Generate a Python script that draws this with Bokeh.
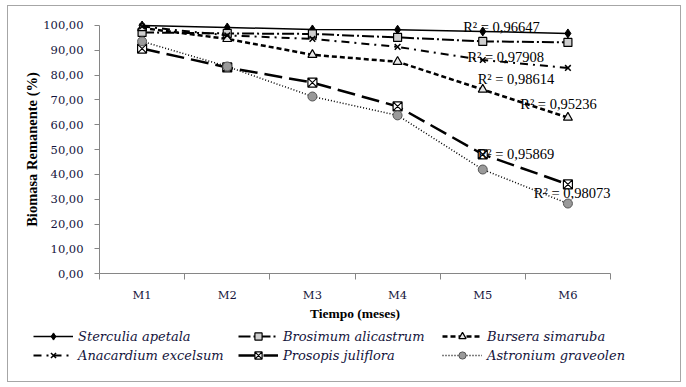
from bokeh.plotting import figure
from bokeh.models import (FixedTicker, Legend, LegendItem, Range1d)
from bokeh.core.properties import value
from bokeh.embed import file_html
from bokeh.resources import INLINE

# ---------------- data ----------------
months = ["M1", "M2", "M3", "M4", "M5", "M6"]
month_idx = [1, 2, 3, 4, 5, 6]

sterculia = [100.0, 99.2, 98.4, 98.3, 97.6, 96.8]
brosimum = [97.2, 96.8, 96.6, 95.2, 93.6, 93.2]
bursera = [99.0, 94.6, 88.2, 85.4, 74.2, 62.9]
anacardium = [99.6, 96.0, 94.6, 91.4, 86.1, 82.9]
prosopis = [90.7, 83.1, 77.0, 67.4, 48.1, 36.0]
astronium = [93.6, 83.5, 71.4, 63.8, 42.0, 28.3]

y_ticks = [0, 10, 20, 30, 40, 50, 60, 70, 80, 90, 100]
y_tick_labels = ["0,00", "10,00", "20,00", "30,00", "40,00", "50,00",
                 "60,00", "70,00", "80,00", "90,00", "100,00"]

r2_texts = ["R\u00b2 = 0,96647", "R\u00b2 = 0,97908", "R\u00b2 = 0,98614",
            "R\u00b2 = 0,95236", "R\u00b2 = 0,95869", "R\u00b2 = 0,98073"]
r2_x = [4.77, 4.82, 4.94, 5.44, 4.94, 5.60]
r2_y = [99.2, 87.3, 78.4, 68.4, 48.4, 32.4]

SERIF = "DejaVu Serif"
TITLE_FONT = "Liberation Serif"
TXT = "#14143c"
AX = "#868686"

# The frame covers the whole canvas; axes are pinned at x=0.5 and y=0 so the
# legend below the x axis can sit freely inside the frame.
p = figure(width=674, height=377, output_backend="svg", toolbar_location=None,
           x_range=Range1d(-0.5685, 7.3454), y_range=Range1d(-44.18, 107.65),
           min_border=0)
p.title.visible = False
p.styles = {"margin-left": "7px", "margin-top": "5px",
            "border": "1px solid #a6a6a6"}
p.outline_line_color = None
p.xgrid.visible = False
p.ygrid.visible = False
p.background_fill_color = "white"
p.border_fill_color = "white"

# axes
p.yaxis.fixed_location = 0.5
p.xaxis.fixed_location = 0
p.yaxis.ticker = FixedTicker(ticks=y_ticks)
p.yaxis.bounds = (0, 100)
p.yaxis.major_label_overrides = {t: l for t, l in zip(y_ticks, y_tick_labels)}
p.yaxis.axis_label = "Biomasa Remanente (%)"
p.xaxis.ticker = FixedTicker(ticks=month_idx,
                             minor_ticks=[i - 0.5 for i in month_idx] + [6.5])
p.xaxis.bounds = (0.5, 6.5)
p.xaxis.major_label_overrides = {i: m for i, m in zip(month_idx, months)}
p.xaxis.axis_label = "Tiempo (meses)"
for ax in (p.xaxis, p.yaxis):
    ax.axis_line_color = AX
    ax.major_tick_line_color = AX
    ax.minor_tick_line_color = AX
    ax.major_label_text_font = SERIF
    ax.major_label_text_font_size = "11.5px"
    ax.major_label_text_color = TXT
    ax.axis_label_text_font = TITLE_FONT
    ax.axis_label_text_font_style = "bold"
    ax.axis_label_text_color = "black"
p.yaxis.axis_label_text_font_size = "14.5px"
p.xaxis.axis_label_text_font_size = "13.5px"
p.yaxis.major_tick_out = 5
p.yaxis.major_tick_in = 0
p.yaxis.minor_tick_out = 0
p.yaxis.minor_tick_in = 0
p.yaxis.major_label_standoff = 11
p.yaxis.axis_label_standoff = 0
p.xaxis.major_tick_out = 0
p.xaxis.major_tick_in = 0
p.xaxis.minor_tick_out = 6
p.xaxis.minor_tick_in = 0
p.xaxis.major_label_standoff = 8
p.xaxis.axis_label_standoff = 1

# series
series = [
    ("Sterculia apetala", sterculia, dict(line_width=1.5, line_dash="solid"),
     dict(marker="diamond", size=9, fill_color="black", line_color="black")),
    ("Brosimum alicastrum", brosimum, dict(line_width=2, line_dash="12 3 2 3"),
     dict(marker="square", size=8, fill_color="#cfcfcf", line_color="black", line_width=1.2)),
    ("Bursera simaruba", bursera, dict(line_width=2.5, line_dash="5 3"),
     dict(marker="triangle", size=9, fill_color="#e8e8e8", line_color="black", line_width=1.2)),
    ("Anacardium excelsum", anacardium, dict(line_width=2, line_dash="8 5 2 5"),
     dict(marker="x", size=8, fill_color=None, line_color="black", line_width=1.5)),
    ("Prosopis juliflora", prosopis, dict(line_width=2.5, line_dash="18 7"),
     dict(marker="square_x", size=9, fill_color="white", line_color="black", line_width=1.2)),
    ("Astronium graveolen", astronium, dict(line_width=1.5, line_dash="1 2"),
     dict(marker="circle", size=9, fill_color="#9a9a9a", line_color="#555555", line_width=1)),
]

items = []
for name, vals, lkw, mkw in series:
    lr = p.line(month_idx, vals, line_color="black", **lkw)
    sr = p.scatter(month_idx, vals, **mkw)
    items.append(LegendItem(label=name, renderers=[lr, sr]))

p.text(r2_x, r2_y, text=r2_texts, text_font=value(TITLE_FONT),
       text_font_size="14.5px", text_color="black",
       text_align="left", text_baseline="middle")

# legend: three columns of two rows under the x axis
col_x = [25, 230, 434]
order = [[0, 3], [1, 4], [2, 5]]
for cx, idxs in zip(col_x, order):
    lg = Legend(items=[items[i] for i in idxs], location=(cx, 19),
                glyph_width=40, glyph_height=18, label_height=18,
                label_standoff=5, spacing=1, padding=0, margin=0,
                label_text_font=SERIF, label_text_font_style="italic",
                label_text_font_size="13px", label_text_color=TXT,
                background_fill_alpha=0, border_line_color=None)
    p.add_layout(lg, "center")

open("out.html", "w").write(file_html(p, INLINE))
